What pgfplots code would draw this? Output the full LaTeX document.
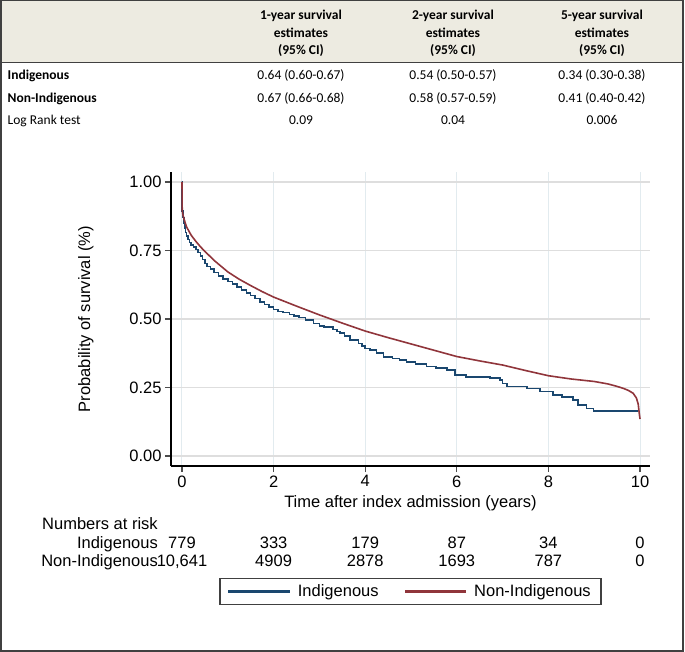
\documentclass[border=0pt]{standalone}
\usepackage{fontspec}
\setmainfont{Liberation Sans}
\newfontfamily\calibri{Carlito}
\usepackage{pgfplots}
\usepackage{pgfplotstable}
\pgfplotsset{compat=1.18}

\definecolor{kmblue}{RGB}{26,71,111}
\definecolor{kmred}{RGB}{144,53,59}
\definecolor{bandbg}{RGB}{237,235,225}
\definecolor{framegray}{RGB}{64,64,64}
\definecolor{hgrid}{RGB}{222,222,222}
\definecolor{vgrid}{RGB}{226,235,239}

% Kaplan-Meier estimates
\pgfplotstableread{
t s
0 1.000
0.003 0.895
0.02 0.870
0.04 0.848
0.06 0.830
0.08 0.815
0.10 0.803
0.13 0.790
0.16 0.779
0.20 0.771
0.25 0.763
0.30 0.754
0.35 0.743
0.40 0.730
0.45 0.717
0.50 0.703
0.55 0.692
0.62 0.682
0.70 0.670
0.80 0.657
0.90 0.647
1.00 0.637
1.10 0.627
1.20 0.616
1.30 0.605
1.41 0.595
1.50 0.586
1.60 0.575
1.70 0.563
1.80 0.553
1.90 0.543
2.00 0.534
2.10 0.528
2.20 0.523
2.35 0.517
2.45 0.512
2.55 0.505
2.70 0.496
2.87 0.484
3.00 0.475
3.10 0.470
3.30 0.462
3.38 0.455
3.45 0.448
3.55 0.437
3.67 0.423
3.85 0.411
3.93 0.402
4.00 0.393
4.10 0.387
4.25 0.375
4.40 0.362
4.60 0.356
4.75 0.350
4.90 0.344
5.10 0.336
5.34 0.326
5.55 0.322
5.78 0.314
5.96 0.296
6.20 0.289
6.72 0.284
6.94 0.277
7.00 0.265
7.09 0.253
7.53 0.247
7.82 0.235
8.10 0.222
8.30 0.216
8.54 0.204
8.65 0.186
8.83 0.174
8.98 0.165
9.95 0.165
}\indig

\pgfplotstableread{
t s
0 1.000
0.005 0.898
0.02 0.880
0.05 0.862
0.10 0.836
0.20 0.806
0.30 0.784
0.40 0.764
0.50 0.747
0.70 0.714
1.00 0.672
1.25 0.645
1.50 0.622
1.75 0.600
2.00 0.580
2.50 0.547
3.00 0.515
3.50 0.485
4.00 0.456
4.50 0.432
5.00 0.409
5.50 0.386
6.00 0.363
6.50 0.347
7.00 0.332
7.50 0.312
8.00 0.293
8.50 0.281
9.00 0.272
9.30 0.263
9.50 0.254
9.65 0.246
9.75 0.239
9.85 0.229
9.92 0.212
9.96 0.190
9.98 0.160
10.00 0.135
}\nonindig

\newcommand\tabfont{\calibri\fontsize{13.5}{16}\selectfont}
\newcommand\plotfont{\fontsize{16.5}{19}\selectfont}

\begin{document}
\begin{tikzpicture}
\begin{scope}[x=1pt,y=-1pt]
  \useasboundingbox (0,0) rectangle (685,652);
  \fill[bandbg] (0,0) rectangle (683,63);
  \draw[framegray, line width=1pt] (0,63) -- (683,63);
  \draw[framegray, line width=1.5pt] (0.75,0.75) rectangle (683,651);
  % header
  \foreach \cx/\n in {301/1,453/2,602/5} {
    \node[font=\tabfont\bfseries, anchor=base] at (\cx,20) {\n-year survival};
    \node[font=\tabfont\bfseries, anchor=base] at (\cx,37.5) {estimates};
    \node[font=\tabfont\bfseries, anchor=base] at (\cx,55) {(95\% CI)};
  }
  % rows
  \node[font=\tabfont\bfseries, anchor=base west, inner sep=0pt] at (7.5,80) {Indigenous};
  \node[font=\tabfont\bfseries, anchor=base west, inner sep=0pt] at (7.5,102.5) {Non-Indigenous};
  \node[font=\tabfont, anchor=base west, inner sep=0pt] at (7.5,125) {Log Rank test};
  \node[font=\tabfont, anchor=base] at (301,80) {0.64 (0.60-0.67)};
  \node[font=\tabfont, anchor=base] at (453,80) {0.54 (0.50-0.57)};
  \node[font=\tabfont, anchor=base] at (602,80) {0.34 (0.30-0.38)};
  \node[font=\tabfont, anchor=base] at (301,102.5) {0.67 (0.66-0.68)};
  \node[font=\tabfont, anchor=base] at (453,102.5) {0.58 (0.57-0.59)};
  \node[font=\tabfont, anchor=base] at (602,102.5) {0.41 (0.40-0.42)};
  \node[font=\tabfont, anchor=base] at (301,125) {0.09};
  \node[font=\tabfont, anchor=base] at (453,125) {0.04};
  \node[font=\tabfont, anchor=base] at (602,125) {0.006};
\end{scope}

\begin{axis}[
    at={(171pt,-466pt)}, anchor=south west,
    scale only axis,
    width=479pt, height=294pt,
    xmin=-0.24, xmax=10.218,
    ymin=-0.0365, ymax=1.0365,
    axis x line*=bottom, axis y line*=left,
    axis line style={-, black, line width=1.2pt},
    xtick={0,2,4,6,8,10},
    ytick={0,0.25,0.5,0.75,1},
    yticklabels={0.00,0.25,0.50,0.75,1.00},
    tick align=outside,
    major tick length=6pt,
    tick style={black!70, line width=1.2pt},
    xmajorgrids, ymajorgrids,
    x grid style={vgrid, line width=1pt},
    y grid style={hgrid, line width=1.5pt},
    tick label style={font=\plotfont},
    /pgf/number format/assume math mode=true,
    label style={font=\plotfont},
    xlabel={Time after index admission (years)},
    ylabel={Probability of survival (\%)},
    xlabel style={at={(axis description cs:0.5,-0.1395)}, anchor=base},
    ylabel style={at={(axis description cs:-0.169,0.5)}, anchor=base},
    clip=false,
    legend columns=2,
    legend style={at={(axis description cs:0.5,-0.4269)}, anchor=center,
        draw=none, name=leg, font=\plotfont,
        inner xsep=8pt, inner ysep=4pt,
        /tikz/every odd column/.append style={column sep=6pt},
        /tikz/every even column/.append style={column sep=24pt}},
]
\addplot[kmblue, line width=1.6pt, const plot,
  legend image code/.code={\fill[kmblue] (0pt,-0.8pt) rectangle (60pt,0.8pt);}]
  table[x=t, y=s] {\indig};
\addlegendentry{Indigenous}
\addplot[kmred, line width=1.6pt,
  legend image code/.code={\fill[kmred] (0pt,-0.8pt) rectangle (60pt,0.8pt);}]
  table[x=t, y=s] {\nonindig};
\addlegendentry{Non-Indigenous}

% numbers at risk
\node[font=\plotfont, anchor=base west, inner sep=0pt] at (axis cs:-3.057,-0.270) {Numbers at risk};
\node[font=\plotfont, anchor=base east, inner sep=0pt] at (axis cs:-0.524,-0.338) {Indigenous};
\node[font=\plotfont, anchor=base east, inner sep=0pt] at (axis cs:-0.524,-0.405) {Non-Indigenous};
\node[font=\plotfont, anchor=base, inner sep=0pt] at (axis cs:0,-0.338) {779};
\node[font=\plotfont, anchor=base, inner sep=0pt] at (axis cs:2,-0.338) {333};
\node[font=\plotfont, anchor=base, inner sep=0pt] at (axis cs:4,-0.338) {179};
\node[font=\plotfont, anchor=base, inner sep=0pt] at (axis cs:6,-0.338) {87};
\node[font=\plotfont, anchor=base, inner sep=0pt] at (axis cs:8,-0.338) {34};
\node[font=\plotfont, anchor=base, inner sep=0pt] at (axis cs:10,-0.338) {0};
\node[font=\plotfont, anchor=base, inner sep=0pt] at (axis cs:0,-0.405) {10,641};
\node[font=\plotfont, anchor=base, inner sep=0pt] at (axis cs:2,-0.405) {4909};
\node[font=\plotfont, anchor=base, inner sep=0pt] at (axis cs:4,-0.405) {2878};
\node[font=\plotfont, anchor=base, inner sep=0pt] at (axis cs:6,-0.405) {1693};
\node[font=\plotfont, anchor=base, inner sep=0pt] at (axis cs:8,-0.405) {787};
\node[font=\plotfont, anchor=base, inner sep=0pt] at (axis cs:10,-0.405) {0};
\end{axis}
\draw[framegray, line width=1.5pt] (leg.south west) rectangle (leg.north east);
\end{tikzpicture}
\end{document}
